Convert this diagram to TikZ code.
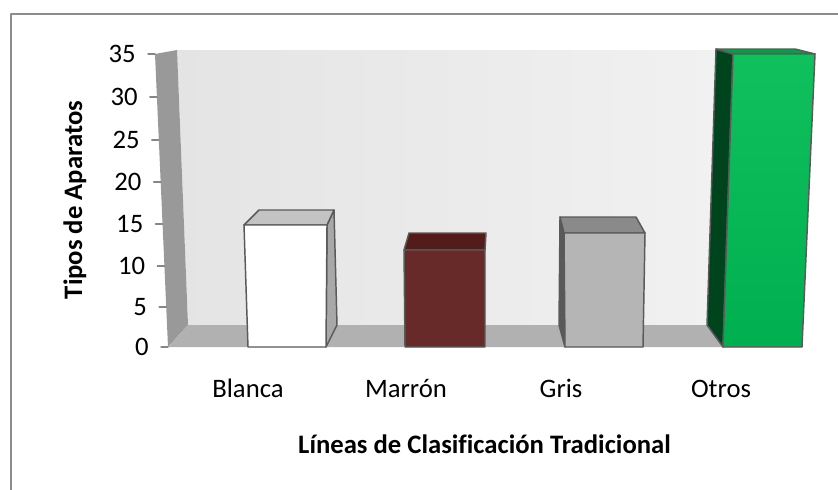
\documentclass[tikz,border=0pt]{standalone}
\usepackage{fontspec}
\setmainfont{Carlito}[Ligatures=NoCommon]
\definecolor{frame}{HTML}{8C8C8C}
\definecolor{wallL}{HTML}{E4E4E4}
\definecolor{wallR}{HTML}{F3F3F3}
\definecolor{sidewall}{HTML}{999999}
\definecolor{floorc}{HTML}{B1B1B1}
\definecolor{tickc}{HTML}{868686}
\definecolor{barline}{HTML}{5A5A5A}
\definecolor{blancatop}{HTML}{C3C3C3}
\definecolor{blancaside}{HTML}{A8A8A8}
\definecolor{marronfront}{HTML}{672A28}
\definecolor{marrontop}{HTML}{531B19}
\definecolor{gristop}{HTML}{8A8A8A}
\definecolor{grisfront}{HTML}{B5B5B5}
\definecolor{grisside}{HTML}{595959}
\definecolor{otrostop}{HTML}{0B9C48}
\definecolor{otrosfrontA}{HTML}{10C05D}
\definecolor{otrosfrontB}{HTML}{00B050}
\definecolor{otrosside}{HTML}{00441E}

\begin{document}
\begin{tikzpicture}[line cap=round,line join=round,x=0.75pt,y=-0.75pt,
		barface/.style={draw=barline,line width=1.1pt},
		lbl/.style={font=\fontsize{20}{24}\selectfont,inner sep=0pt}]
		\useasboundingbox (0,0) rectangle (838,489);
		\clip (0,0) rectangle (838,489);
		\draw [line width=1.4pt,color=frame] (11,14) rectangle (850,500);
		% walls and floor
		\shade [left color=wallL,right color=wallR] (177,50) -- (800,50) -- (800,325) -- (188,325) -- cycle;
		\fill [sidewall] (155,54) -- (177,50) -- (188,325) -- (168,347) -- cycle;
		\fill [floorc] (188,325) -- (790,325) -- (800,347) -- (168,347) -- cycle;
		% axis
		\foreach \val/\ypos in {0/347,5/307,10/266,15/224,20/182,25/140,30/97,35/54} {
			\pgfmathsetmacro\xt{155+(\ypos-54)*13/293}
			\draw [tickc,line width=1.1pt] (\xt-7,\ypos) -- (\xt,\ypos);
			\node [lbl,anchor=east] (t\val) at (\xt-19,\ypos) {\val};
		}
		% Blanca
		\draw [barface,fill=blancaside] (327,225) -- (334,210) -- (337,325) -- (326,347) -- cycle;
		\draw [barface,fill=blancatop] (244,225) -- (259,210) -- (334,210) -- (327,225) -- cycle;
		\draw [barface,fill=white] (244,225) -- (327,225) -- (326,347) -- (248,347) -- cycle;
		% Marron
		\draw [barface,fill=marrontop] (404,250) -- (409,233) -- (486,233) -- (485,250) -- cycle;
		\draw [barface,fill=marronfront] (404,250) -- (485,250) -- (485,347) -- (405,347) -- cycle;
		% Gris
		\draw [barface,fill=grisside] (560,217) -- (564,233) -- (565,347) -- (559,325) -- cycle;
		\draw [barface,fill=gristop] (564,233) -- (560,217) -- (636,217) -- (645,233) -- cycle;
		\draw [barface,fill=grisfront] (564,233) -- (645,233) -- (643,347) -- (565,347) -- cycle;
		% Otros
		\draw [barface,fill=otrosside] (716,49) -- (733,54) -- (723,347) -- (707,325) -- cycle;
		\draw [barface,fill=otrostop] (716,49) -- (795,49) -- (815,54) -- (733,54) -- cycle;
		\draw [barface,top color=otrosfrontA,bottom color=otrosfrontB] (733,54) -- (815,54) -- (802,347) -- (723,347) -- cycle;
		% labels
		\node [lbl,anchor=base] (blanca) at (248,397) {Blanca};
		\node [lbl,anchor=base] (marron) at (406,397) {Marrón};
		\node [lbl,anchor=base] (gris) at (561,397) {Gris};
		\node [lbl,anchor=base] (otros) at (721,397) {Otros};
		\node [lbl,anchor=base,font=\fontsize{20}{24}\selectfont\bfseries] (xtitle) at (484.5,453) {Líneas de Clasificación Tradicional};
		\node [lbl,anchor=base,rotate=90,font=\fontsize{20}{24}\selectfont\bfseries] (ytitle) at (82,200) {Tipos de Aparatos};
	\end{tikzpicture}
\end{document}
